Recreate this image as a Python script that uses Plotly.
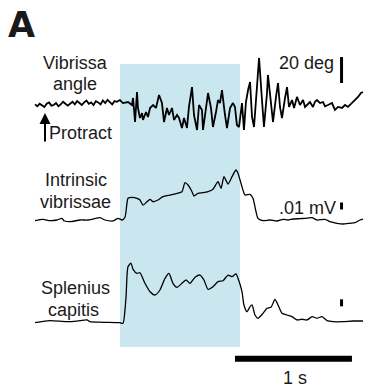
import plotly.graph_objects as go

# ---------------- data ----------------
# Vibrissa angle (deg) vs time (s)
vib_t = [0.00, 0.02, 0.04, 0.06, 0.08, 0.10, 0.12, 0.14, 0.16, 0.18, 0.20, 0.22,
         0.24, 0.26, 0.28, 0.30, 0.32, 0.34, 0.36, 0.38, 0.40, 0.42, 0.44, 0.46,
         0.48, 0.50, 0.52, 0.54, 0.56, 0.58, 0.60, 0.62, 0.64, 0.66, 0.68, 0.70,
         0.726, 0.752, 0.795, 0.829, 0.838, 0.855, 0.872, 0.880, 0.897, 0.915,
         0.923, 0.949, 0.966, 0.983, 1.009, 1.034, 1.060, 1.085, 1.103, 1.128,
         1.145, 1.171, 1.188, 1.214, 1.231, 1.256, 1.274, 1.299, 1.316, 1.342,
         1.359, 1.385, 1.402, 1.427, 1.436, 1.462, 1.479, 1.504, 1.521, 1.547,
         1.564, 1.581, 1.598, 1.624, 1.641, 1.667, 1.692, 1.709, 1.726, 1.744,
         1.769, 1.786, 1.803, 1.821, 1.838, 1.855, 1.872, 1.897, 1.915, 1.940,
         1.957, 1.983, 1.991, 2.017, 2.034, 2.060, 2.077, 2.094, 2.111, 2.137,
         2.154, 2.171, 2.197, 2.214, 2.239, 2.265, 2.291, 2.308, 2.325, 2.350,
         2.376, 2.393, 2.410, 2.436, 2.462, 2.479, 2.504, 2.538, 2.564, 2.590,
         2.624, 2.650, 2.675, 2.709, 2.735, 2.761, 2.786, 2.803]
vib_deg = [0.5, -1, 1, 0, -1.5, 1, 2, -0.5, 0, 1.5, -1, 0.5,
           2.5, 1, -0.5, 1, 2.5, 0.5, 3, 1.5, 0, 2, 3.5, 1,
           2, 0, 3, 2, 0.5, 3.5, 1.5, 4, 2, 0.5, 3, 2.5,
           3.8, 1.5, 2.3, 0, 5.4, -13.1, 10, -2.3, -10, -6.2,
           -11.5, -5.4, -9.2, -2.3, 0, -2.3, 7.7, 1.5, -13.1, -2.3,
           -7.7, -2.3, -11.5, -7.7, -10, -17.7, -10, -17.7, -1.5, 13.8,
           -7.7, -19.2, 0, -3.8, -19.2, -3.8, 9.2, -2.3, -16.9, -5.4,
           3.8, 1.5, 11.5, -7.7, -17.7, -2.3, 1.5, -1.5, -15.4, -16.9,
           1.5, -19.2, 2.3, 11.5, 17.7, -9.2, -16.9, 13.8, 36.2, 3.8,
           -16.9, 9.2, 23.1, 1.5, -13.1, 6.2, 16.9, -1.5, -10, 5.4,
           13.8, -1.5, 3.8, -2.3, 6.2, 0, 3.8, -1.5, 0, 2.3,
           -1.5, 2.5, 3.8, 1.5, 2.3, -1, 0, 1.5, -3.8, -1.5,
           -2.3, 0, -1.5, 1.5, 3.8, 6.2, 9.2, 10]

# Intrinsic vibrissae EMG (mV) vs time (s)
intr_t = [0.000, 0.068, 0.128, 0.188, 0.231, 0.248, 0.299, 0.385, 0.453, 0.496,
          0.556, 0.598, 0.667, 0.709, 0.744, 0.769, 0.786, 0.795, 0.829, 0.872,
          0.897, 0.923, 0.957, 0.983, 1.009, 1.051, 1.094, 1.154, 1.214, 1.256,
          1.282, 1.308, 1.342, 1.359, 1.393, 1.436, 1.479, 1.521, 1.564, 1.590,
          1.615, 1.650, 1.684, 1.718, 1.735, 1.769, 1.795, 1.838, 1.863, 1.889,
          1.906, 1.949, 2.009, 2.068, 2.120, 2.162, 2.205, 2.265, 2.308, 2.368,
          2.410, 2.479, 2.521, 2.581, 2.632, 2.692, 2.735, 2.778, 2.803]
intr_mv = [-0.001, 0.001, -0.001, 0.0, 0.0024, -0.001, -0.0024, 0.0, 0.0, 0.0014,
           0.0033, 0.0, -0.0014, 0.0024, 0.0, 0.0039, 0.0239, 0.031, 0.0324, 0.031,
           0.0286, 0.0214, 0.0261, 0.0296, 0.0261, 0.0286, 0.0333, 0.0357, 0.0381, 0.0404,
           0.0533, 0.05, 0.0404, 0.0343, 0.0381, 0.039, 0.0404, 0.0439, 0.0547, 0.0453,
           0.0619, 0.0514, 0.0619, 0.0714, 0.0667, 0.0476, 0.0357, 0.0367, 0.031, 0.0119,
           0.0024, -0.001, 0.0, -0.0014, 0.001, 0.0, 0.0014, 0.0019, 0.0024, 0.0033,
           0.0, 0.001, -0.0024, -0.0047, -0.0057, -0.0047, -0.0039, 0.0, 0.0014]

# Splenius capitis EMG (mV) vs time (s)
spl_t = [0.000, 0.128, 0.274, 0.385, 0.444, 0.470, 0.581, 0.726, 0.752, 0.778,
         0.795, 0.821, 0.838, 0.872, 0.897, 0.940, 0.983, 1.026, 1.068, 1.111,
         1.145, 1.179, 1.214, 1.256, 1.291, 1.325, 1.368, 1.410, 1.444, 1.479,
         1.521, 1.564, 1.607, 1.650, 1.684, 1.718, 1.735, 1.769, 1.786, 1.812,
         1.838, 1.855, 1.880, 1.906, 1.949, 1.983, 2.017, 2.051, 2.077, 2.111,
         2.154, 2.197, 2.239, 2.282, 2.325, 2.368, 2.410, 2.453, 2.496, 2.547,
         2.632, 2.718, 2.803]
spl_mv = [-0.001, 0.0019, 0.0004, 0.0019, 0.0029, 0.0004, -0.0004, -0.001, -0.0019, 0.0361,
          0.079, 0.0839, 0.0753, 0.0696, 0.0704, 0.0553, 0.0433, 0.0386, 0.0457, 0.0624,
          0.0696, 0.0553, 0.0496, 0.0553, 0.06, 0.0553, 0.0639, 0.0671, 0.06, 0.0467,
          0.0504, 0.0576, 0.059, 0.0671, 0.0647, 0.0686, 0.0624, 0.0433, 0.0243, 0.0147,
          0.0219, 0.0243, 0.01, 0.0053, 0.0124, 0.0196, 0.021, 0.0324, 0.0243, 0.0124,
          0.01, 0.0076, 0.0029, 0.0039, 0.0029, 0.0076, 0.0053, 0.0076, 0.0019, 0.0004,
          0.0004, 0.0014, 0.0014]

stim_window = [0.726, 1.752]          # s (shaded)
time_bar = [1.709, 2.709]             # 1 s
angle_bar = [16.9, 36.9]              # 20 deg
intr_bar = [0.015, 0.025]             # .01 mV
spl_bar = [0.0224, 0.0324]            # .01 mV
bar_t = 2.62

# ---------------- figure ----------------
W, H = 365, 390
FONT = "Liberation Sans, Arial, Helvetica, sans-serif"


def py(px):
    return 1 - px / H


def px_x(px):
    return px / W


fig = go.Figure()
fig.add_trace(go.Scatter(x=vib_t, y=vib_deg, mode="lines", yaxis="y",
                         line=dict(color="black", width=1.8), hoverinfo="skip"))
fig.add_trace(go.Scatter(x=intr_t, y=intr_mv, mode="lines", yaxis="y2",
                         line=dict(color="black", width=1.3, shape="spline", smoothing=0.6),
                         hoverinfo="skip"))
fig.add_trace(go.Scatter(x=spl_t, y=spl_mv, mode="lines", yaxis="y3",
                         line=dict(color="black", width=1.3, shape="spline", smoothing=0.6),
                         hoverinfo="skip"))

shapes = [
    dict(type="rect", xref="x", yref="paper", x0=stim_window[0], x1=stim_window[1],
         y0=py(347), y1=py(64), fillcolor="rgb(202,230,239)", line=dict(width=0),
         layer="below"),
    dict(type="line", xref="x", yref="paper", x0=time_bar[0], x1=time_bar[1],
         y0=py(358.8), y1=py(358.8), line=dict(color="black", width=6)),
    dict(type="line", xref="x", yref="y", x0=bar_t, x1=bar_t,
         y0=angle_bar[0], y1=angle_bar[1], line=dict(color="black", width=3)),
    dict(type="line", xref="x", yref="y2", x0=bar_t, x1=bar_t,
         y0=intr_bar[0], y1=intr_bar[1], line=dict(color="black", width=3)),
    dict(type="line", xref="x", yref="y3", x0=bar_t, x1=bar_t,
         y0=spl_bar[0], y1=spl_bar[1], line=dict(color="black", width=3)),
]


def label(text, x, y, size=18, bold=False, family=FONT):
    return dict(text=f"<b>{text}</b>" if bold else text, xref="paper", yref="paper",
                x=px_x(x), y=py(y), xanchor="center", yanchor="middle",
                showarrow=False, font=dict(family=family, size=size, color="#1a1a1a"))


annotations = [
    label("A", 21, 25.5, size=35, bold=True, family="DejaVu Sans, " + FONT),
    label("Vibrissa", 75.5, 63.5),
    label("angle", 75, 84.3),
    label("Protract", 80.5, 133),
    label("20 deg", 306, 63.3),
    label("Intrinsic", 75.7, 179.7),
    label("vibrissae", 75.5, 202),
    label(".01 mV", 307, 207.5),
    label("Splenius", 75, 288.3),
    label("capitis", 73.5, 310),
    label("1 s", 294.5, 378),
    dict(text="", xref="paper", yref="paper", x=px_x(45), y=py(113),
         ax=0, ay=30, showarrow=True, arrowhead=2, arrowsize=1.1,
         arrowwidth=2, arrowcolor="black", standoff=0),
]

axis_off = dict(visible=False, showgrid=False, zeroline=False, fixedrange=True)
fig.update_layout(
    width=W, height=H, margin=dict(l=0, r=0, t=0, b=0),
    paper_bgcolor="white", plot_bgcolor="white", showlegend=False,
    xaxis=dict(range=[-35 / 117, 330 / 117], **axis_off),
    yaxis=dict(domain=[py(140), py(40)], range=[-26.923, 50], **axis_off),
    yaxis2=dict(domain=[py(240), py(150)], range=[-0.028571, 0.1], **axis_off),
    yaxis3=dict(domain=[py(350), py(250)], range=[-0.04, 0.102857], **axis_off),
    shapes=shapes, annotations=annotations,
)

fig.write_html(
    "out.html",
    config={"displayModeBar": False},
    post_script="document.body.style.margin='0';document.body.style.overflow='hidden';",
)
